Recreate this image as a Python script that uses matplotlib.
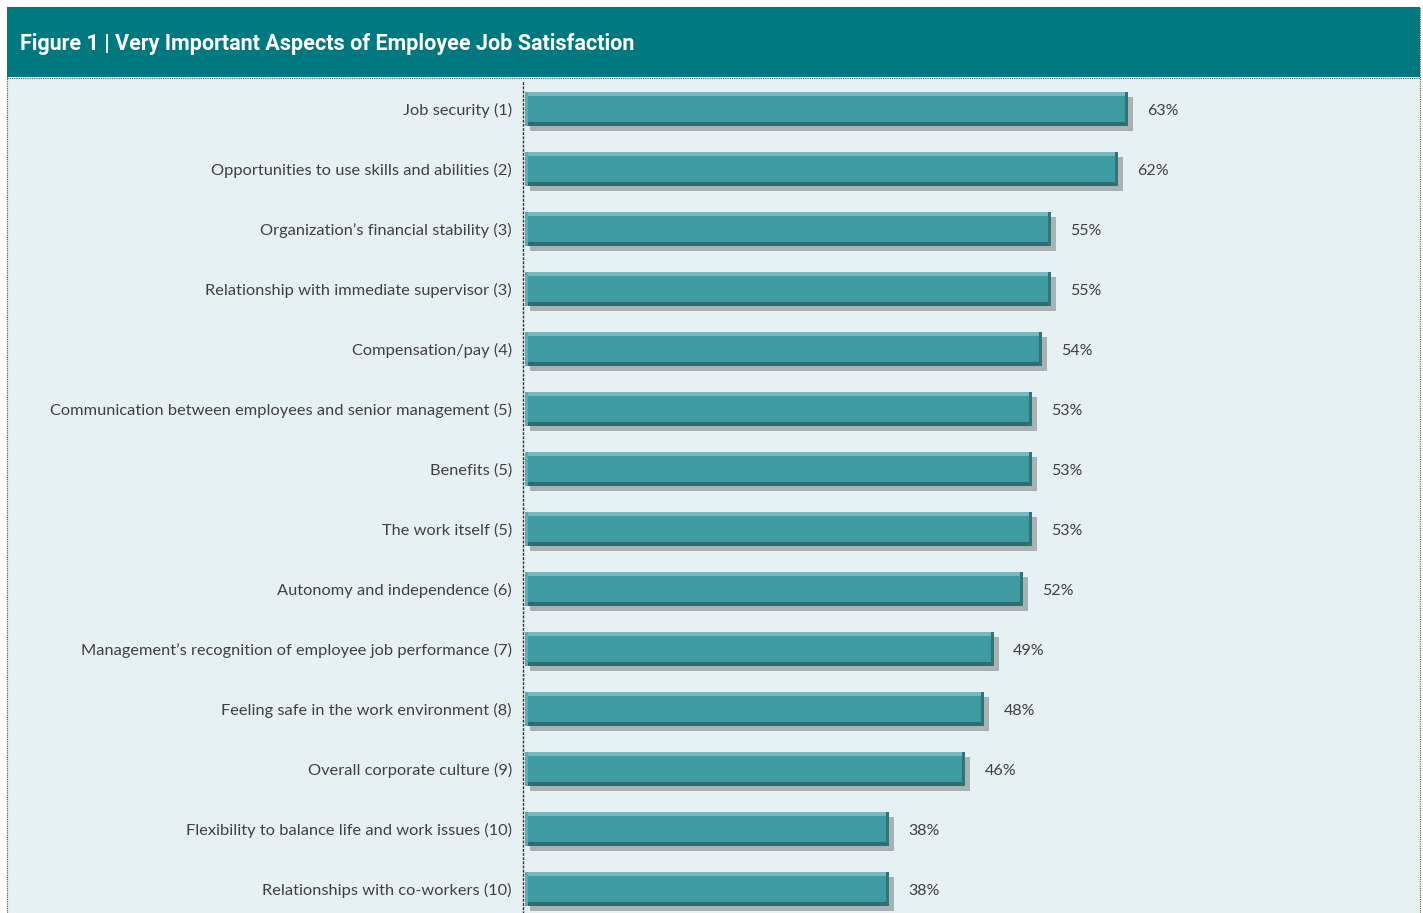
import matplotlib.pyplot as plt
from matplotlib.patches import Rectangle

aspects = [
    'Job security (1)',
    'Opportunities to use skills and abilities (2)',
    'Organization\u2019s financial stability (3)',
    'Relationship with immediate supervisor (3)',
    'Compensation/pay (4)',
    'Communication between employees and senior management (5)',
    'Benefits (5)',
    'The work itself (5)',
    'Autonomy and independence (6)',
    'Management\u2019s recognition of employee job performance (7)',
    'Feeling safe in the work environment (8)',
    'Overall corporate culture (9)',
    'Flexibility to balance life and work issues (10)',
    'Relationships with co-workers (10)',
]
percent = [63, 62, 55, 55, 54, 53, 53, 53, 52, 49, 48, 46, 38, 38]

W, H = 1423, 913
bg = '#e6f1f3'
teal = '#3e9ba1'
header = '#007880'
txt = '#404040'

plt.rcParams['font.family'] = ['Lato', 'DejaVu Sans']
fig = plt.figure(figsize=(W / 100, H / 100), dpi=100)
fig.patch.set_facecolor('white')

# body background + header band (figure pixel coords)
def fx(px):
    return px / W

def fy(py):
    return 1 - py / H

fig.patches.append(Rectangle((fx(7), 0), fx(1420) - fx(7), fy(77), transform=fig.transFigure,
                             facecolor=bg, edgecolor='none', zorder=-2))
fig.patches.append(Rectangle((fx(7), fy(77)), fx(1420) - fx(7), fy(7) - fy(77), transform=fig.transFigure,
                             facecolor=header, edgecolor='none', zorder=-2))
# dotted borders
for x in (7, 1420):
    fig.add_artist(plt.Line2D([fx(x), fx(x)], [0, fy(7)], transform=fig.transFigure,
                              color='#555555', lw=0.8, ls=(0, (1, 1)), zorder=-1))
for y in (7, 78):
    fig.add_artist(plt.Line2D([fx(7), fx(1420)], [fy(y), fy(y)], transform=fig.transFigure,
                              color='#555555', lw=0.8, ls=(0, (1, 1)), zorder=-1))
fig.text(fx(20), fy(44), 'Figure 1 | Very Important Aspects of Employee Job Satisfaction',
         color='white', fontsize=15.5, fontweight='bold', va='center', ha='left',
         family=['Roboto', 'DejaVu Sans'])

ax = fig.add_axes([fx(523), 0, fx(1420) - fx(523), fy(80)])
ax.set_facecolor('none')
y = list(range(len(aspects)))
bh = 0.58
px = 1 / 9.57  # data units per pixel (x)
py = 1 / 60    # data units per pixel (y)

# shadow
ax.barh([v + 5 * py for v in y], percent, height=bh, left=5 * px,
        color='#a9b1b3', edgecolor='none', zorder=1)
# main bar
ax.barh(y, percent, height=bh, color=teal, edgecolor='none', zorder=2)
# top highlight
ax.barh([v - bh / 2 + 2 * py for v in y], percent, height=4 * py, color='#74b9bd', edgecolor='none', zorder=3)
# bottom dark strip
ax.barh([v + bh / 2 - 2 * py for v in y], percent, height=4 * py, color='#2c6e73', edgecolor='none', zorder=3)
# right dark edge
ax.barh(y, [3 * px] * len(y), left=[p - 3 * px for p in percent], height=bh,
        color='#2f7479', edgecolor='none', zorder=3)
# left light edge
ax.barh(y, [3 * px] * len(y), left=0, height=bh, color='#5aaeb3', edgecolor='none', zorder=3)

for yi, p in zip(y, percent):
    ax.text(p + 2.0, yi + 2 * py, f'{p}%', va='center', ha='left', fontsize=11.5, color=txt)

ax.set_xlim(-2 * px, (1420 - 525) * px)
ax.set_ylim((913 - 109) / 60, -(109 - 80) / 60)
ax.set_yticks(y)
ax.set_yticklabels(aspects, fontsize=11.8, color=txt)
ax.tick_params(axis='y', length=0, pad=8)
ax.set_xticks([])
for s in ('top', 'right', 'bottom'):
    ax.spines[s].set_visible(False)
ax.spines['left'].set_linestyle((0, (1, 2)))
ax.spines['left'].set_color('#333333')
ax.spines['left'].set_linewidth(1.0)

fig.savefig('out.png', dpi=100, facecolor=fig.get_facecolor())
